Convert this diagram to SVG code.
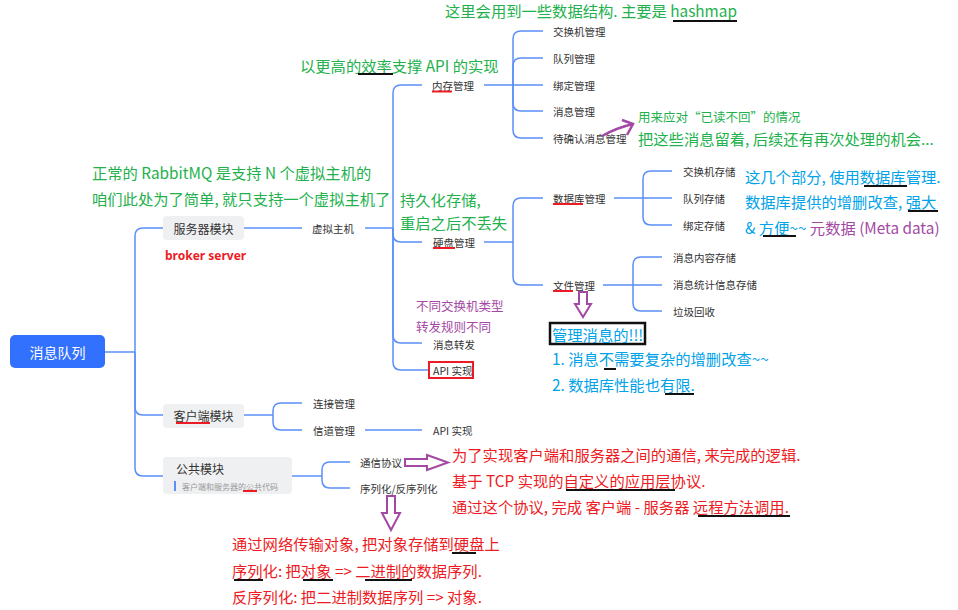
<svg xmlns="http://www.w3.org/2000/svg" width="958" height="610" viewBox="0 0 958 610">
<style>
.conn{fill:none;stroke:#5b8ff9;stroke-width:1.5}
.t{font-family:"Noto Sans CJK SC","Noto Sans",sans-serif;dominant-baseline:central}
.lbl{font-size:10.5px;fill:#333}
.box{fill:#eff0f2;rx:4}
.bt{font-size:12px;fill:#333}
.ann{font-size:15.3px}
.g{fill:#22b14c}
.b{fill:#00a2e8}
.r{fill:#ed1c24}
.p{fill:#a349a4}
.ul{stroke:#111;stroke-width:2}
.rul{stroke:#ed1c24;stroke-width:2}
.parr{fill:#fff;stroke:#a349a4;stroke-width:2;stroke-linejoin:miter}
</style>
<rect width="958" height="610" fill="#fff"/>

<g id="connectors">
<path class="conn" d="M105,352H135"/>
<path class="conn" d="M135,352V236Q135,228 143,228H163"/>
<path class="conn" d="M135,352V407Q135,415 143,415H163"/>
<path class="conn" d="M135,352V468Q135,476 143,476H163"/>
<path class="conn" d="M244,228H302"/>
<path class="conn" d="M365,228H393"/>
<path class="conn" d="M393,228V93Q393,85 401,85H422"/>
<path class="conn" d="M393,228V234Q393,242 401,242H422"/>
<path class="conn" d="M393,228V335Q393,343 401,343H422"/>
<path class="conn" d="M393,228V362Q393,370 401,370H428"/>
<path class="conn" d="M484,85H513"/>
<path class="conn" d="M513,85V39Q513,31 521,31H543"/>
<path class="conn" d="M513,85V66Q513,58 521,58H543"/>
<path class="conn" d="M513,85H543"/>
<path class="conn" d="M513,85V103Q513,111 521,111H543"/>
<path class="conn" d="M513,85V130Q513,138 521,138H543"/>
<path class="conn" d="M484,242H513"/>
<path class="conn" d="M513,242V206Q513,198 521,198H543"/>
<path class="conn" d="M513,242V277Q513,285 521,285H543"/>
<path class="conn" d="M614,198H643"/>
<path class="conn" d="M643,198V179Q643,171 651,171H672"/>
<path class="conn" d="M643,198H672"/>
<path class="conn" d="M643,198V217Q643,225 651,225H672"/>
<path class="conn" d="M603,285H633"/>
<path class="conn" d="M633,285V265Q633,257 641,257H662"/>
<path class="conn" d="M633,285H662"/>
<path class="conn" d="M633,285V303Q633,311 641,311H662"/>
<path class="conn" d="M244,415H273"/>
<path class="conn" d="M273,415V411Q273,403 281,403H302"/>
<path class="conn" d="M273,415V422Q273,430 281,430H302"/>
<path class="conn" d="M365,430H422"/>
<path class="conn" d="M292,476H322"/>
<path class="conn" d="M322,476V470Q322,462 330,462H350"/>
<path class="conn" d="M322,476V480Q322,488 330,488H350"/>
</g>

<g id="root">
<rect x="10" y="335" width="95" height="33" rx="5" fill="#3271fe"/>
<text class="t" x="57.5" y="352" font-size="14" fill="#fff" text-anchor="middle">消息队列</text>
</g>

<g id="server">
<rect class="box" x="163" y="216" width="81" height="24" rx="4"/>
<text class="t bt" x="203.5" y="228" text-anchor="middle">服务器模块</text>
<text x="165" y="255" font-family="'Noto Sans',sans-serif" font-size="12" font-weight="bold" fill="#ed1c24" dominant-baseline="central">broker server</text>
</g>
<g id="vhost"><text class="t lbl" x="312" y="228">虚拟主机</text></g>
<g id="mem"><text class="t lbl" x="432" y="85">内存管理</text><line class="rul" x1="432" y1="91.5" x2="452" y2="91.5"/></g>
<g id="disk"><text class="t lbl" x="433" y="242">硬盘管理</text><line class="rul" x1="433" y1="248" x2="455" y2="248"/></g>
<g id="forward"><text class="t lbl" x="433" y="344">消息转发</text></g>
<g id="api1"><rect x="429" y="362" width="44" height="16" fill="none" stroke="#ed1c24" stroke-width="2"/><text class="t lbl" x="433" y="370">API 实现</text></g>
<g id="m1"><text class="t lbl" x="553" y="31">交换机管理</text></g>
<g id="m2"><text class="t lbl" x="553" y="58">队列管理</text></g>
<g id="m3"><text class="t lbl" x="553" y="85">绑定管理</text></g>
<g id="m4"><text class="t lbl" x="553" y="111">消息管理</text></g>
<g id="m5"><text class="t lbl" x="553" y="138">待确认消息管理</text></g>
<g id="db"><text class="t lbl" x="553" y="198">数据库管理</text><line class="rul" x1="553" y1="204" x2="583" y2="204"/></g>
<g id="file"><text class="t lbl" x="553" y="285">文件管理</text><line class="rul" x1="553" y1="291" x2="573" y2="291"/></g>
<g id="d1"><text class="t lbl" x="683" y="171">交换机存储</text></g>
<g id="d2"><text class="t lbl" x="683" y="198">队列存储</text></g>
<g id="d3"><text class="t lbl" x="683" y="225">绑定存储</text></g>
<g id="f1"><text class="t lbl" x="673" y="257">消息内容存储</text></g>
<g id="f2"><text class="t lbl" x="673" y="284">消息统计信息存储</text></g>
<g id="f3"><text class="t lbl" x="673" y="311">垃圾回收</text></g>

<g id="client">
<rect class="box" x="163" y="404" width="81" height="24" rx="4"/>
<text class="t bt" x="203.5" y="415" text-anchor="middle">客户端模块</text>
<line class="rul" x1="176" y1="423" x2="210" y2="423"/>
</g>
<g id="conn1"><text class="t lbl" x="313" y="403">连接管理</text></g>
<g id="chan"><text class="t lbl" x="313" y="430">信道管理</text></g>
<g id="api2"><text class="t lbl" x="433" y="430">API 实现</text></g>

<g id="common">
<rect class="box" x="163" y="457" width="129" height="37" rx="4"/>
<text class="t bt" x="176" y="468">公共模块</text>
<rect x="174" y="481" width="2" height="10" fill="#5b8ff9"/>
<text class="t" x="182" y="486" font-size="8" fill="#999">客户端和服务器的公共代码</text>
<line class="rul" x1="243" y1="491" x2="257" y2="491" stroke-width="1.5"/>
</g>
<g id="proto"><text class="t lbl" x="360" y="462">通信协议</text></g>
<g id="serial"><text class="t lbl" x="360" y="488">序列化/反序列化</text></g>

<g id="annotations">
<text class="t ann g" x="445" y="10">这里会用到一些数据结构. 主要是 hashmap</text>
<line class="ul" x1="673" y1="21" x2="737" y2="21"/>
<text class="t ann g" x="300" y="65">以更高的效率支撑 API 的实现</text>
<line class="ul" x1="358" y1="74" x2="393" y2="74"/>
<path d="M602,136Q616,128 633,124" fill="none" stroke="#a349a4" stroke-width="2.5"/>
<path d="M622,120L633,124L627,135" fill="none" stroke="#a349a4" stroke-width="2.5"/>
<text class="t g" x="638" y="116" font-size="12.5">用来应对“已读不回”的情况</text>
<text class="t ann g" x="638" y="138">把这些消息留着, 后续还有再次处理的机会...</text>
<text class="t ann g" x="92" y="172">正常的 RabbitMQ 是支持 N 个虚拟主机的</text>
<text class="t ann g" x="92" y="198">咱们此处为了简单, 就只支持一个虚拟主机了</text>
<text class="t ann g" x="400" y="199">持久化存储,</text>
<text class="t ann g" x="400" y="222">重启之后不丢失</text>
<text class="t ann b" x="745" y="176">这几个部分, 使用数据库管理.</text>
<line class="ul" x1="864" y1="186" x2="907" y2="186"/>
<text class="t ann b" x="745" y="201">数据库提供的增删改查, 强大</text>
<line class="ul" x1="908" y1="211" x2="938" y2="211"/>
<text class="t ann b" x="745" y="227">&amp; 方便~~ <tspan class="p">元数据 (Meta data)</tspan></text>
<line class="ul" x1="763" y1="236" x2="796" y2="236"/>
<text class="t p" x="416" y="305" font-size="12.5">不同交换机类型</text>
<text class="t p" x="416" y="326" font-size="12.5">转发规则不同</text>
<polygon class="parr" points="579,292 587,292 587,304 591,304 583,317 575,304 579,304"/>
<rect x="550" y="323" width="95" height="21" fill="none" stroke="#111" stroke-width="2.5"/>
<text class="t ann b" x="552" y="333.5">管理消息的!!!</text>
<text class="t ann b" x="552" y="358">1. 消息不需要复杂的增删改查~~</text>
<line class="ul" x1="604" y1="369" x2="616" y2="369"/>
<text class="t ann b" x="552" y="384">2. 数据库性能也有限.</text>
<line class="ul" x1="665" y1="394" x2="694" y2="394"/>
<polygon class="parr" points="405,459 427,459 427,455 448,462.5 427,470 427,466 405,466"/>
<text class="t ann r" x="452" y="454">为了实现客户端和服务器之间的通信, 来完成的逻辑.</text>
<text class="t ann r" x="452" y="480">基于 TCP 实现的自定义的应用层协议.</text>
<line class="ul" x1="566" y1="490" x2="675" y2="490"/>
<text class="t ann r" x="452" y="506">通过这个协议, 完成 客户端 - 服务器 远程方法调用.</text>
<line class="ul" x1="698" y1="516" x2="790" y2="516"/>
<polygon class="parr" points="387,496 395,496 395,513 400,513 391,530 382,513 387,513"/>
<text class="t ann r" x="232" y="543">通过网络传输对象, 把对象存储到硬盘上</text>
<line class="ul" x1="452" y1="553" x2="476" y2="553"/>
<text class="t ann r" x="232" y="570">序列化: 把对象 =&gt; 二进制的数据序列.</text>
<line class="ul" x1="234" y1="580" x2="263" y2="580"/>
<line class="ul" x1="303" y1="580" x2="333" y2="580"/>
<line class="ul" x1="365" y1="580" x2="412" y2="580"/>
<text class="t ann r" x="232" y="596">反序列化: 把二进制数据序列 =&gt; 对象.</text>
</g>
</svg>
